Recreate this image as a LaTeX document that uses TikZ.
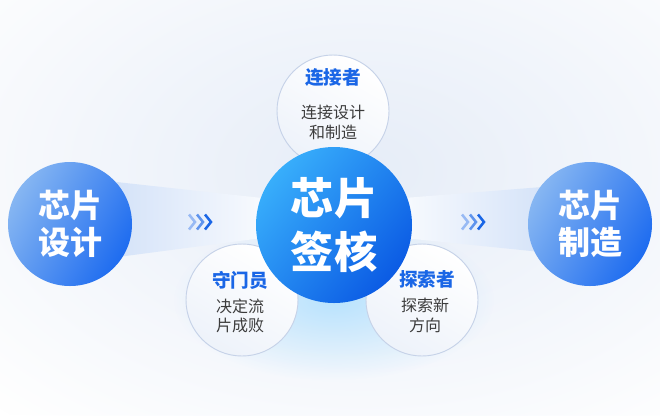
\documentclass[tikz,border=0pt]{standalone}
\usepackage{fontspec}
\newfontfamily\cjk{Noto Sans CJK SC}
\newfontfamily\cjkheavy{Noto Sans CJK SC Black}
\usetikzlibrary{fadings}
\tikzfading[name=softglow,inner color=transparent!0,outer color=transparent!100]
\definecolor{deepblue}{HTML}{0B5BE4}
\definecolor{skyblue}{HTML}{38AEFB}
\definecolor{sideblue}{HTML}{1E6CF0}
\definecolor{sidelight}{HTML}{86B6F2}
\definecolor{titleblue}{HTML}{1A66E6}
\definecolor{ringgray}{HTML}{C6D2E8}
\definecolor{beamblue}{HTML}{CCDDF7}
\definecolor{glow}{HTML}{E6EDF8}
\definecolor{bodygray}{HTML}{3C3C3C}
\tikzset{
  bigdisc/.style={circle,inner sep=0pt,minimum size=117pt,top color=skyblue,bottom color=deepblue,shading angle=50,text=white,align=center,font=\cjkheavy\fontsize{32.5}{40}\selectfont},
  sidedisc/.style={circle,inner sep=0pt,minimum size=93pt,top color=sidelight,bottom color=sideblue,shading angle=60,text=white,align=center,font=\cjkheavy\fontsize{24}{28}\selectfont},
  ring/.style={circle,inner sep=0pt,minimum size=84pt,draw=ringgray,line width=0.7pt,top color=white,bottom color=glow!70,shading angle=-30},
  ringtitle/.style={text=titleblue,font=\cjkheavy\fontsize{14}{16}\selectfont},
  ringbody/.style={text=bodygray,align=center,font=\cjk\fontsize{12}{14.5}\selectfont},
  chev/.style={line width=1.9pt,line cap=butt,line join=miter}
}
\begin{document}
\begin{tikzpicture}[x=0.75pt,y=-0.75pt]
\useasboundingbox (0,0) rectangle (660,415);
\clip (0,0) rectangle (660,415);
\fill[white] (0,0) rectangle (660,415);
%glow
\fill[glow,path fading=softglow] (360,170) ellipse (520 and 330);
\fill[skyblue!35,path fading=softglow] (334,300) ellipse (160 and 80);
%beams
\shade[left color=beamblue,right color=beamblue!15] (80,178)--(262,198)--(262,238)--(80,262)--cycle;
\shade[left color=beamblue!15,right color=beamblue] (404,198)--(580,184)--(580,256)--(404,238)--cycle;
%chevrons
\foreach \i/\c in {0/45,1/70,2/100}{
  \draw[chev,titleblue!\c] (189+\i*8,214.5)--++(6,7.5)--++(-6,7.5);
  \draw[chev,titleblue!\c] (462+\i*8,214.5)--++(6,7.5)--++(-6,7.5);
}
%small rings
\node[ring] (linker) at (333,111) {};
\node[ring] (keeper) at (242,300) {};
\node[ring] (explorer) at (422,300) {};
%big discs
\node[sidedisc] (design) at (70,224) {芯片\\设计};
\node[sidedisc] (make) at (590,224) {芯片\\制造};
\node[bigdisc] (signoff) at (334,225) {芯片\\签核};
%text
\node[ringtitle] (linkertitle) at (333,78) {连接者};
\node[ringbody] (linkerbody) at (333,122.5) {连接设计\\和制造};
\node[ringtitle] (keepertitle) at (240,280) {守门员};
\node[ringbody] (keeperbody) at (240,316) {决定流\\片成败};
\node[ringtitle] (explorertitle) at (427,279) {探索者};
\node[ringbody] (explorerbody) at (425,315.5) {探索新\\方向};
\end{tikzpicture}
\end{document}
